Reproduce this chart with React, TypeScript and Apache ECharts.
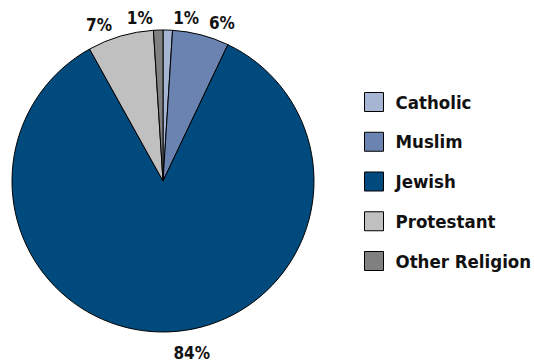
import React, { useEffect, useRef } from "react";
import * as echarts from "echarts";

const categories = ["Catholic", "Muslim", "Jewish", "Protestant", "Other Religion"];
const values = [1, 6, 84, 7, 1];
const colors = ["#a7b5d5", "#6a83b0", "#004a7d", "#c0c0c0", "#808080"];
const labelDistances = [12, 12, 21, 12, 12];

const FONT = "'DejaVu Sans Condensed', 'DejaVu Sans', sans-serif";

export default function App() {
  const ref = useRef<HTMLDivElement>(null);
  useEffect(() => {
    if (!ref.current) return;
    const chart = echarts.init(ref.current, undefined, { renderer: "svg" });
    chart.setOption({
      animation: false,
      backgroundColor: "#ffffff",
      legend: {
        orient: "vertical",
        left: 359,
        top: 87,
        padding: 5,
        itemWidth: 19,
        itemHeight: 19,
        itemGap: 19.75,
        icon: "rect",
        data: categories,
        itemStyle: { borderColor: "#000", borderWidth: 1 },
        textStyle: {
          fontFamily: FONT,
          fontWeight: "bold",
          fontSize: 18.5,
          lineHeight: 20,
          color: "#111",
          padding: [0, 0, 0, 7],
        },
      },
      series: [
        {
          type: "pie",
          center: [163, 181],
          radius: 151,
          startAngle: 90,
          clockwise: true,
          avoidLabelOverlap: false,
          itemStyle: { borderColor: "#000", borderWidth: 1 },
          label: {
            show: true,
            position: "outside",
            formatter: (p: any) => p.value + "%",
            fontFamily: FONT,
            fontWeight: "bold",
            fontSize: 17,
            color: "#111",
          },
          labelLine: { show: false, length: 12, length2: 0 },
          data: categories.map((c, i) => ({
            name: c,
            value: values[i],
            itemStyle: { color: colors[i] },
            labelLine: { show: false, length: labelDistances[i], length2: 0 },
          })),
        },
      ],
    });
    return () => chart.dispose();
  }, []);
  return (
    <div
      ref={ref}
      style={{ position: "absolute", left: 0, top: 0, width: 534, height: 364 }}
    />
  );
}
